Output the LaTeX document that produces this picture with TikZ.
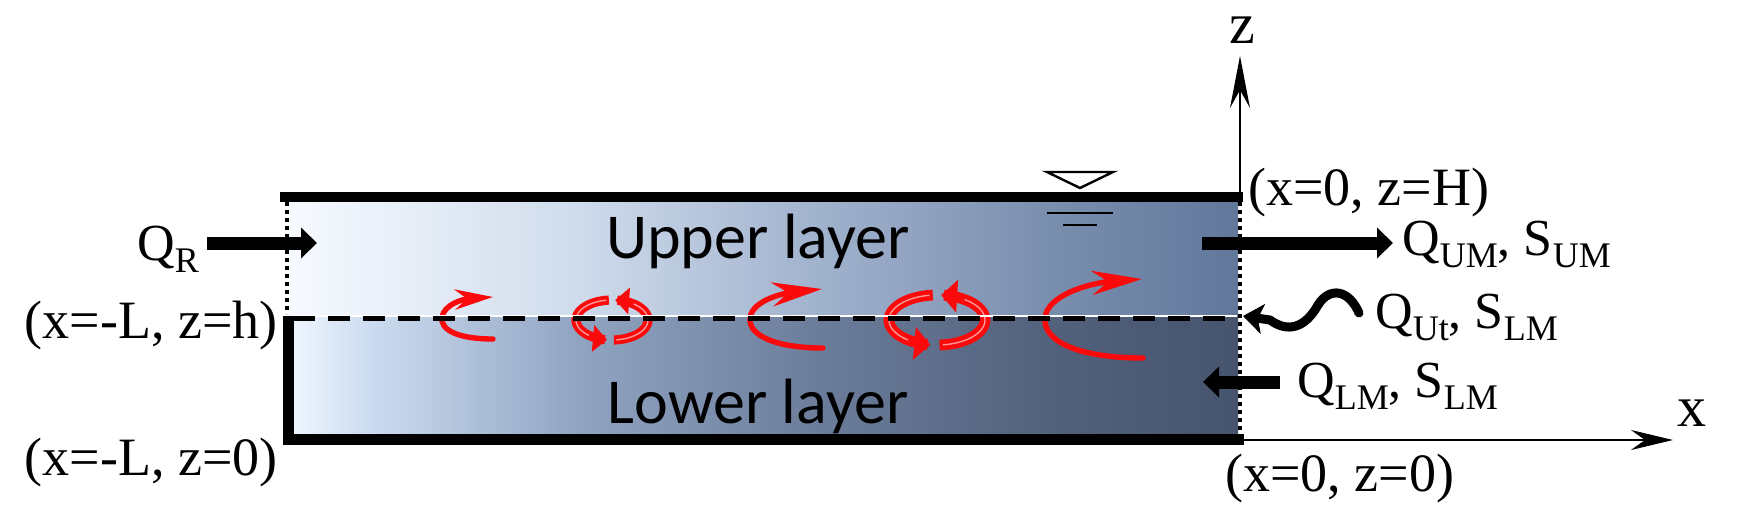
\documentclass[tikz,border=0pt]{standalone}
\usepackage{fontspec}
\setmainfont{Liberation Serif}
\newfontfamily\layerfont{Carlito}
\usetikzlibrary{arrows.meta}
\definecolor{eddyred}{RGB}{250,10,10}
\definecolor{hilite}{RGB}{255,150,150}
\definecolor{upA}{RGB}{246,250,255}
\definecolor{upB}{RGB}{208,220,236}
\definecolor{upC}{RGB}{162,179,206}
\definecolor{upD}{RGB}{122,142,174}
\definecolor{upE}{RGB}{98,120,155}
\definecolor{loA}{RGB}{238,246,255}
\definecolor{loB}{RGB}{205,220,240}
\definecolor{loC}{RGB}{145,165,195}
\definecolor{loD}{RGB}{108,126,156}
\definecolor{loE}{RGB}{82,97,124}
\definecolor{loF}{RGB}{70,84,110}
\pgfdeclarehorizontalshading{uppershade}{100bp}{color(0bp)=(upA); color(25bp)=(upA); color(40bp)=(upB); color(52.5bp)=(upC); color(65bp)=(upD); color(75bp)=(upE); color(100bp)=(upE)}
\pgfdeclarehorizontalshading{lowershade}{100bp}{color(0bp)=(loA); color(25bp)=(loA); color(29bp)=(loB); color(40bp)=(loC); color(52.5bp)=(loD); color(65bp)=(loE); color(75bp)=(loF); color(100bp)=(loF)}
\newcommand\sbs[1]{\raisebox{-6pt}{\fontsize{18}{18}\selectfont #1}}
\begin{document}
\begin{tikzpicture}[x=0.5pt,y=-0.5pt,
  lbl/.style={inner sep=0pt, font=\fontsize{27}{30}\selectfont},
  qlbl/.style={inner sep=0pt, anchor=base west, font=\fontsize{26}{30}\selectfont},
  axlbl/.style={inner sep=0pt, font=\fontsize{29}{32}\selectfont},
  layerlbl/.style={inner sep=0pt, anchor=base, font=\layerfont\fontsize{32}{36}\selectfont},
  wall/.style={line width=5pt},
  dotwall/.style={line width=2.2pt, dash pattern=on 2pt off 2pt},
  flowarrow/.style={line width=6.5pt, -{Triangle[length=8pt,width=15pt]}},
  axisline/.style={line width=1.25pt},
  eddy/.style={draw=eddyred, line width=2.7pt, line cap=round},
  smallhead/.style={-{Stealth[length=19pt,width=10pt,inset=6pt]}},
  bighead/.style={-{Stealth[length=25pt,width=12pt,inset=8pt]}},
  band/.style={draw=eddyred, line width=4.6pt},
  bandhi/.style={draw=hilite, line width=0.7pt}
]
\useasboundingbox (0,0) rectangle (1742,526);

% layers
\shade[shading=uppershade] (290,202) rectangle (1238,317);
\shade[shading=lowershade] (292,317) rectangle (1238,435);

% walls
\draw[wall] (280,197) -- (1243,197);
\draw[wall, line width=5.5pt] (288,316) -- (288,439) -- (1244,439);
\draw[dotwall] (287,202) -- (287,314);
\draw[dotwall] (1240,202) -- (1240,434);

% axes
\coordinate (zfoot) at (1240,192);
\coordinate (ztip) at (1240,56);
\coordinate (xfoot) at (1244,440);
\coordinate (xtip) at (1673,440);
\draw[axisline, -{Stealth[length=26pt,width=10pt,inset=9pt]}] (zfoot) -- (ztip);
\draw[axisline, -{Stealth[length=21pt,width=10pt,inset=7pt]}] (xfoot) -- (xtip);

% single eddies
\draw[eddy, smallhead] (493,339) .. controls (458,339) and (440,330) .. (442,317) .. controls (444,305) and (462,299) .. (493,297);
\draw[eddy, bighead] (823,348) .. controls (775,348) and (748,335) .. (750,318) .. controls (752,300) and (785,293) .. (822,289);
\draw[eddy, bighead] (1143,358) .. controls (1080,358) and (1043,342) .. (1045,318) .. controls (1047,295) and (1090,283) .. (1142,279);

% double eddy B
\draw[band, -{Triangle[length=7pt,width=13pt]}] plot[domain=0:167, samples=50] ({612+36*cos(265-\x)},{320+20*sin(265-\x)});
\draw[band, -{Triangle[length=7pt,width=13pt]}] plot[domain=0:172, samples=50] ({612+36*cos(87-\x)},{320+20*sin(87-\x)});
\draw[bandhi] plot[domain=4:135, samples=40] ({612+36*cos(265-\x)},{320+20*sin(265-\x)});
\draw[bandhi] plot[domain=4:140, samples=40] ({612+36*cos(87-\x)},{320+20*sin(87-\x)});
% double eddy D
\draw[band, line width=5.4pt, -{Triangle[length=8pt,width=16pt]}] plot[domain=0:167, samples=50] ({937+48*cos(265-\x)},{320+25*sin(265-\x)});
\draw[band, line width=5.4pt, -{Triangle[length=8pt,width=16pt]}] plot[domain=0:172, samples=50] ({937+48*cos(87-\x)},{320+25*sin(87-\x)});
\draw[bandhi] plot[domain=4:138, samples=40] ({937+48*cos(265-\x)},{320+25*sin(265-\x)});
\draw[bandhi] plot[domain=4:142, samples=40] ({937+48*cos(87-\x)},{320+25*sin(87-\x)});

% interface
\draw[white, line width=1pt] (293,315.5) -- (1237,315.5);
\draw[line width=2.8pt, dash pattern=on 11pt off 6.5pt] (293,318.5) -- (1237,318.5);

% water level symbol
\draw[line width=1.2pt, fill=white] (1047,172) -- (1113,172) -- (1080,188) -- cycle;
\draw[line width=1.3pt] (1047,213) -- (1113,213);
\draw[line width=1.3pt] (1063,225) -- (1097,225);

% labels
\node[lbl, anchor=east] (lefth) at (278,326) {(x=-L, z=h)};
\node[lbl, anchor=east] (left0) at (278,463) {(x=-L, z=0)};
\node[lbl, anchor=west] (rightH) at (1248,193) {(x=0, z=H)};
\node[lbl, anchor=west] (right0) at (1225,479) {(x=0, z=0)};
\node[axlbl] (zlab) at (1242,30) {z};
\node[axlbl] (xlab) at (1692,413) {x};
\node[qlbl] (qr) at (137,260) {Q\sbs{R}};
\node[qlbl] (qum) at (1402,255) {Q\sbs{UM}, S\sbs{UM}};
\node[qlbl] (qut) at (1375,328) {Q\sbs{Ut}, S\sbs{LM}};
\node[qlbl] (qlm) at (1297,397) {Q\sbs{LM}, S\sbs{LM}};
\node[layerlbl] (upper) at (758,258) {Upper layer};
\node[layerlbl] (lower) at (758,423) {Lower layer};

% flow arrows
\coordinate (qrs) at (207,243);
\coordinate (qre) at (317,243);
\coordinate (ums) at (1202,243);
\coordinate (ume) at (1393,243);
\coordinate (lms) at (1280,382);
\coordinate (lme) at (1203,382);
\draw[flowarrow] (qrs) -- (qre);
\draw[flowarrow] (ums) -- (ume);
\draw[flowarrow] (lms) -- (lme);
\coordinate (uts) at (1359,313);
\coordinate (ute) at (1243,316);
\draw[line width=4.5pt, line cap=round, -{Stealth[length=10pt,width=15pt,inset=2.5pt]}] (uts) .. controls (1349,290) and (1330,286) .. (1318,305) .. controls (1305,328) and (1288,333) .. (1270,320) -- (ute);
\end{tikzpicture}
\end{document}
